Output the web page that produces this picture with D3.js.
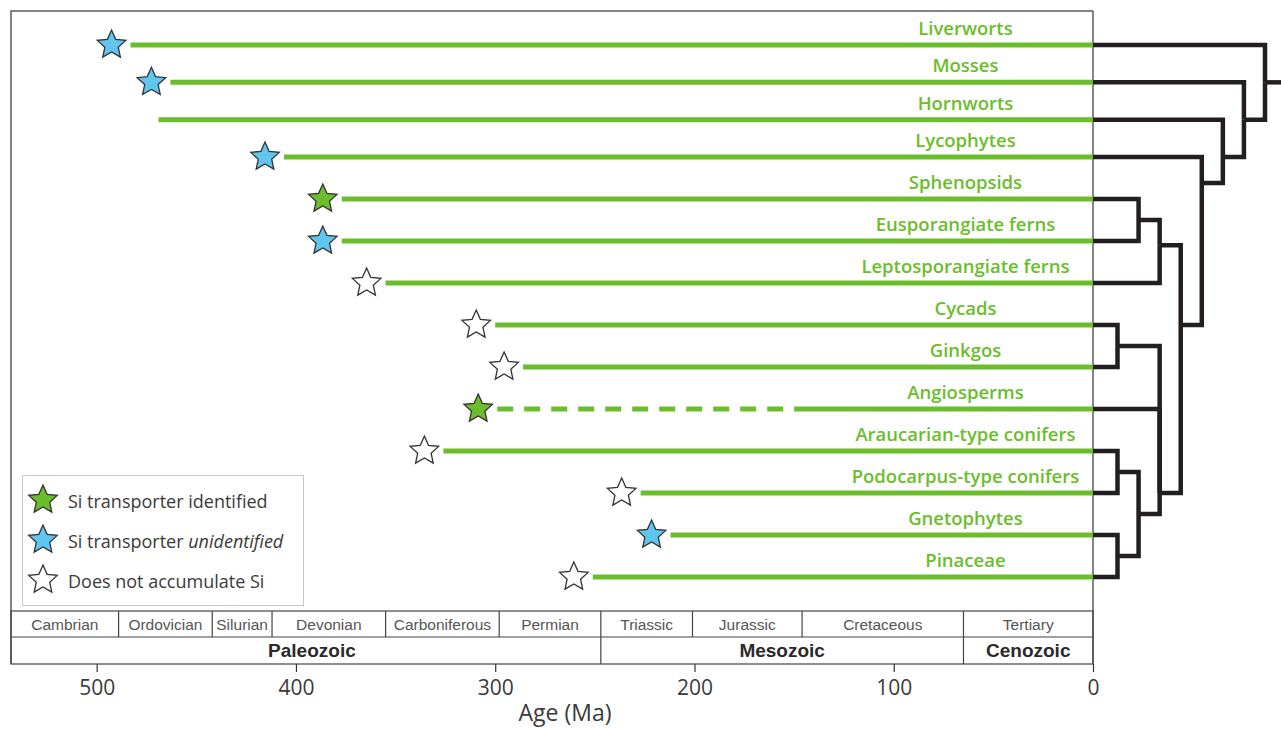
<!DOCTYPE html>
<html>
<head>
<meta charset="utf-8">
<script src="https://cdn.jsdelivr.net/npm/d3@7"></script>
<style>
  html, body { margin: 0; padding: 0; background: #fff; }
  svg { display: block; }
</style>
</head>
<body>
<svg id="chart" width="1281" height="729"></svg>
<script>
// Land plant lineages, top to bottom
const taxa = [
  "Liverworts", "Mosses", "Hornworts", "Lycophytes", "Sphenopsids",
  "Eusporangiate ferns", "Leptosporangiate ferns", "Cycads", "Ginkgos",
  "Angiosperms", "Araucarian-type conifers", "Podocarpus-type conifers",
  "Gnetophytes", "Pinaceae"
];
// Age of the oldest record of each lineage (Ma)
const originAge = [483, 463, 469, 406, 377, 377, 355, 300, 286, 299, 326, 227, 212, 251];
// Silicon status of each lineage ("" = no symbol)
const siStatus = [
  "unidentified", "unidentified", "", "unidentified", "identified",
  "unidentified", "none", "none", "none", "identified", "none", "none",
  "unidentified", "none"
];
// Age at which an uncertain (dashed) record becomes a firm one
const uncertainUntil = [null, null, null, null, null, null, null, null, null, 150, null, null, null, null];

// Geological time scale
const periods = ["Cambrian", "Ordovician", "Silurian", "Devonian", "Carboniferous",
  "Permian", "Triassic", "Jurassic", "Cretaceous", "Tertiary"];
const periodStart = [543, 489, 442, 412, 355, 298, 247, 201, 146, 65];
const eras = ["Paleozoic", "Mesozoic", "Cenozoic"];
const eraStart = [543, 247, 65];
const ageTicks = [500, 400, 300, 200, 100, 0];

// Legend entries
const legendStatus = ["identified", "unidentified", "none"];
const legendPrefix = ["Si transporter identified", "Si transporter ", "Does not accumulate Si"];
const legendItalic = ["", "unidentified", ""];

// Phylogeny: node level (distance from the tips) and, where the branch
// leaves the clade off-centre, its attachment row
const phylogeny = {
  level: 8, children: [
    { name: "Liverworts" },
    { level: 7, children: [
      { name: "Mosses" },
      { level: 6, anchor: 3, children: [
        { name: "Hornworts" },
        { level: 5, anchor: 3.62, children: [
          { name: "Lycophytes" },
          { level: 4, anchor: 7, children: [
            { level: 3, anchor: 5.1, children: [
              { level: 2, children: [{ name: "Sphenopsids" }, { name: "Eusporangiate ferns" }] },
              { name: "Leptosporangiate ferns" }
            ] },
            { level: 3, anchor: 11, children: [
              { level: 1, children: [{ name: "Cycads" }, { name: "Ginkgos" }] },
              { name: "Angiosperms" },
              { level: 2, children: [
                { level: 1, children: [{ name: "Araucarian-type conifers" }, { name: "Podocarpus-type conifers" }] },
                { level: 1, children: [{ name: "Gnetophytes" }, { name: "Pinaceae" }] }
              ] }
            ] }
          ] }
        ] }
      ] }
    ] }
  ]
};

// ---- layout ----
const GREEN = "#6bbd2c";
const BLUE = "#60c5ef";
const INK = "#231f20";
const starFill = { identified: GREEN, unidentified: BLUE, none: "#ffffff" };

const plotLeft = 11, plotRight = 1093, plotTop = 11;
const scaleTop = 611, scaleMid = 637, scaleBottom = 664;

const svg = d3.select("#chart");
svg.append("rect").attr("width", 1281).attr("height", 729).attr("fill", "#fff");

const x = d3.scaleLinear().domain([543, 0]).range([plotLeft, plotRight]);
const rowY = d3.scaleLinear().domain([0, 3, 13]).range([45, 157, 577]);
const levelX = d3.scaleLinear().domain([1, 8]).range([1117.5, 1265]);

function starPath(R, ratio) {
  const pts = d3.range(10).map(i => {
    const a = -Math.PI / 2 + i * Math.PI / 5;
    const r = i % 2 ? R * ratio : R;
    return [r * Math.cos(a), r * Math.sin(a)];
  });
  return d3.line()(pts) + "Z";
}
const STAR = starPath(15, 0.47);

// ---- frame ----
const frame = svg.append("g").attr("fill", "none");
frame.append("path")
  .attr("d", `M${plotLeft},${scaleBottom}V${plotTop}H${plotRight}`)
  .attr("stroke", "#5a5a5a").attr("stroke-width", 1.5);
frame.append("line")
  .attr("x1", plotRight).attr("x2", plotRight)
  .attr("y1", plotTop).attr("y2", scaleBottom)
  .attr("stroke", "#333").attr("stroke-width", 1.2);

// ---- time scale ----
const ts = svg.append("g");
ts.append("rect")
  .attr("x", plotLeft).attr("y", scaleTop)
  .attr("width", plotRight - plotLeft).attr("height", scaleBottom - scaleTop)
  .attr("fill", "none").attr("stroke", "#444").attr("stroke-width", 1.2);
ts.append("line")
  .attr("x1", plotLeft).attr("x2", plotRight)
  .attr("y1", scaleMid).attr("y2", scaleMid)
  .attr("stroke", "#444").attr("stroke-width", 1.2);

const periodEnd = periodStart.slice(1).concat([0]);
ts.selectAll("line.period")
  .data(periodStart.slice(1))
  .join("line")
  .attr("class", "period")
  .attr("x1", d => x(d)).attr("x2", d => x(d))
  .attr("y1", scaleTop)
  .attr("y2", d => eraStart.includes(d) ? scaleBottom : scaleMid)
  .attr("stroke", "#444").attr("stroke-width", 1.2);

ts.selectAll("text.period")
  .data(periods)
  .join("text")
  .attr("class", "period")
  .attr("x", (d, i) => (x(periodStart[i]) + x(periodEnd[i])) / 2)
  .attr("y", scaleMid - 7)
  .attr("text-anchor", "middle")
  .attr("font-family", "'Liberation Sans', Arial, sans-serif")
  .attr("font-size", 15.5)
  .attr("fill", "#555")
  .text(d => d);

const eraEnd = eraStart.slice(1).concat([0]);
ts.selectAll("text.era")
  .data(eras)
  .join("text")
  .attr("class", "era")
  .attr("x", (d, i) => (x(eraStart[i]) + x(eraEnd[i])) / 2 + (i === 0 ? 6 : 0))
  .attr("y", scaleBottom - 7)
  .attr("text-anchor", "middle")
  .attr("font-family", "'Liberation Sans', Arial, sans-serif")
  .attr("font-weight", "bold")
  .attr("font-size", 19)
  .attr("fill", "#2a2a2a")
  .text(d => d);

// ---- age axis ----
const axisG = svg.append("g")
  .attr("transform", `translate(0,${scaleBottom})`)
  .call(d3.axisBottom(x).tickValues(ageTicks).tickSize(8).tickPadding(8).tickFormat(d3.format("d")));
axisG.select(".domain").remove();
axisG.selectAll(".tick line").attr("stroke", "#333").attr("stroke-width", 1.2);
axisG.selectAll(".tick text")
  .attr("font-family", "'Open Sans', sans-serif")
  .attr("font-size", 21)
  .attr("fill", "#3a3a3a");

svg.append("text")
  .attr("x", (x(300) + x(250)) / 2 + 20)
  .attr("y", 721)
  .attr("text-anchor", "middle")
  .attr("font-family", "'Open Sans', sans-serif")
  .attr("font-size", 23)
  .attr("fill", "#3a3a3a")
  .text("Age (Ma)");

// ---- lineage ranges ----
const rows = taxa.map((name, i) => ({
  name, i, age: originAge[i], status: siStatus[i], firm: uncertainUntil[i]
}));

const ranges = svg.append("g").attr("stroke", GREEN).attr("stroke-width", 5).attr("fill", "none");
ranges.selectAll("line.firm")
  .data(rows)
  .join("line")
  .attr("class", "firm")
  .attr("x1", d => x(d.firm != null ? d.firm : d.age))
  .attr("x2", x(0))
  .attr("y1", d => rowY(d.i)).attr("y2", d => rowY(d.i));
ranges.selectAll("line.uncertain")
  .data(rows.filter(d => d.firm != null))
  .join("line")
  .attr("class", "uncertain")
  .attr("x1", d => x(d.age))
  .attr("x2", d => x(d.firm))
  .attr("y1", d => rowY(d.i)).attr("y2", d => rowY(d.i))
  .attr("stroke-dasharray", "16 11");

svg.append("g").selectAll("text")
  .data(rows)
  .join("text")
  .attr("x", x(64))
  .attr("y", d => rowY(d.i) - 10)
  .attr("text-anchor", "middle")
  .attr("font-family", "'Open Sans', sans-serif")
  .attr("font-weight", 600)
  .attr("font-size", 18.5)
  .attr("fill", GREEN)
  .text(d => d.name);

svg.append("g").selectAll("path")
  .data(rows.filter(d => d.status))
  .join("path")
  .attr("d", STAR)
  .attr("transform", d => `translate(${x(d.age) - 19},${rowY(d.i)})`)
  .attr("fill", d => starFill[d.status])
  .attr("stroke", "#333")
  .attr("stroke-width", 1.3)
  .attr("stroke-linejoin", "miter");

// ---- phylogeny ----
const root = d3.hierarchy(phylogeny);
root.eachAfter(n => {
  if (!n.children) {
    n.px = x(0);
    n.py = rowY(taxa.indexOf(n.data.name));
  } else {
    n.px = levelX(n.data.level);
    const ys = n.children.map(c => c.py);
    n.py = n.data.anchor != null ? rowY(n.data.anchor) : (d3.min(ys) + d3.max(ys)) / 2;
  }
});

const treeG = svg.append("g")
  .attr("fill", "none")
  .attr("stroke", INK)
  .attr("stroke-width", 4.5)
  .attr("stroke-linejoin", "miter");
treeG.selectAll("path.branch")
  .data(root.links())
  .join("path")
  .attr("class", "branch")
  .attr("d", l => `M${l.target.px},${l.target.py}H${l.source.px}V${l.source.py}`);
treeG.append("path")
  .attr("d", `M${root.px},${root.py}H1285`);

// ---- legend ----
const legend = svg.append("g");
legend.append("rect")
  .attr("x", 22.5).attr("y", 475.5)
  .attr("width", 281).attr("height", 130)
  .attr("fill", "#fff").attr("stroke", "#c8c8c8").attr("stroke-width", 1);

const legendItems = legend.selectAll("g.item")
  .data(legendStatus)
  .join("g")
  .attr("class", "item")
  .attr("transform", (d, i) => `translate(43,${500 + i * 40})`);
legendItems.append("path")
  .attr("d", STAR)
  .attr("fill", d => starFill[d])
  .attr("stroke", "#333")
  .attr("stroke-width", 1.3);
const legendText = legendItems.append("text")
  .attr("x", 25)
  .attr("y", 8)
  .attr("font-family", "'Open Sans', sans-serif")
  .attr("font-size", 18)
  .attr("fill", "#3a3a3a");
legendText.append("tspan").text((d, i) => legendPrefix[i]);
legendText.append("tspan")
  .attr("font-style", "italic")
  .text((d, i) => legendItalic[i]);
</script>
</body>
</html>
